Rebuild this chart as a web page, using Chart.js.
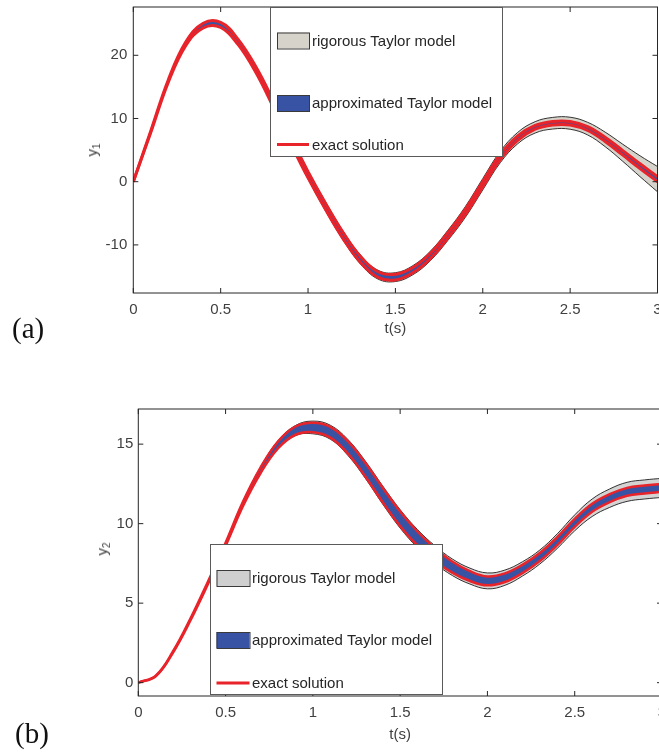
<!DOCTYPE html>
<html>
<head>
<meta charset="utf-8">
<script src="https://cdn.jsdelivr.net/npm/chart.js@4/dist/chart.umd.min.js"></script>
<style>
html,body{margin:0;padding:0;background:#fff;overflow:hidden;width:659px;height:752px;}
.wrap{position:absolute;left:0;}
#wa{top:0;width:659px;height:345px;}
#wb{top:390px;width:665px;height:362px;}
.panel{position:absolute;font-family:"Liberation Serif","Times New Roman",serif;font-size:29px;line-height:29px;color:#111;}
.ylab{position:absolute;font-family:"Liberation Sans",Arial,sans-serif;font-size:15px;color:#404040;white-space:nowrap;line-height:16px;transform:translate(-50%,-50%) rotate(-90deg);}
.ylab sub{font-size:10px;vertical-align:-3px;line-height:0;}
</style>
</head>
<body>
<div class="wrap" id="wa"><canvas id="ca"></canvas></div>
<div class="wrap" id="wb"><canvas id="cb"></canvas></div>
<div class="panel" id="pa" style="left:12px;top:314px;"></div>
<div class="panel" id="pb" style="left:15px;top:719px;"></div>
<div class="ylab" style="left:92px;top:150px;">y<sub>1</sub></div>
<div class="ylab" style="left:102px;top:549px;">y<sub>2</sub></div>
<script>
// ---- data ----
const tValues = [0,0.1,0.2,0.3,0.4,0.5,0.6,0.7,0.8,0.9,1.0,1.1,1.2,1.3,1.4,1.5,1.6,1.7,1.8,1.9,2.0,2.1,2.2,2.3,2.4,2.5,2.6,2.7,2.8,2.9,3.0];

const y1Center  = [0,7.9,15.9,21.8,24.7,24.8,22.1,17.8,12.4,6.6,1.1,-3.9,-8.5,-12.3,-14.7,-15.1,-14.0,-11.75,-8.5,-4.8,-0.4,3.9,6.9,8.6,9.25,9.25,8.4,6.7,4.6,2.45,0.4];
const y1RigHalf = [0,0.12,0.2,0.28,0.38,0.4,0.45,0.5,0.55,0.6,0.65,0.7,0.72,0.72,0.7,0.7,0.72,0.75,0.8,0.85,0.9,0.9,0.9,0.9,0.92,0.95,1.0,1.15,1.35,1.65,2.0];
const y1AppHalf = [0,0.12,0.2,0.28,0.36,0.4,0.42,0.45,0.5,0.5,0.5,0.5,0.5,0.48,0.45,0.45,0.42,0.42,0.42,0.42,0.42,0.4,0.35,0.3,0.28,0.28,0.3,0.33,0.36,0.38,0.4];

const y2Center  = [0,0.42,1.95,4.0,6.3,8.7,11.25,13.35,14.95,15.85,16.05,15.75,14.8,13.4,11.8,10.3,9.05,8.05,7.25,6.7,6.4,6.6,7.15,7.9,8.9,10.05,11.0,11.6,12.0,12.15,12.25];
const y2RigHalf = [0,0.03,0.05,0.07,0.09,0.12,0.16,0.2,0.26,0.32,0.4,0.44,0.5,0.54,0.57,0.58,0.57,0.55,0.52,0.5,0.5,0.48,0.45,0.44,0.46,0.5,0.55,0.58,0.6,0.6,0.6];
const y2AppHalf = [0,0.02,0.04,0.06,0.08,0.1,0.14,0.18,0.22,0.26,0.3,0.34,0.39,0.43,0.46,0.46,0.44,0.4,0.35,0.31,0.28,0.27,0.26,0.25,0.25,0.25,0.25,0.25,0.25,0.25,0.25];

const xTicks  = [0,0.5,1,1.5,2,2.5,3];
const y1Ticks = [-10,0,10,20];
const y2Ticks = [0,5,10,15];
const legendLabels = ['rigorous Taylor model','approximated Taylor model','exact solution'];
const panelLabels = ['(a)','(b)'];
const xTitle = 't(s)';

document.getElementById('pa').textContent = panelLabels[0];
document.getElementById('pb').textContent = panelLabels[1];

// ---- styling ----
const TXT = '#404040';
const FONT = {family:'"Liberation Sans", Arial, sans-serif', size:15};
const BLUE = '#3953a4';
const RED = '#e8232a';

function pts(center, half, sign){
  return tValues.map((t,i)=>({x:t, y:center[i] + sign*half[i]}));
}

function makeDatasets(center, rig, app, gray, redW){
  const base = {pointRadius:0, pointHoverRadius:0, tension:0.4, clip:0};
  return [
    Object.assign({}, base, {label:legendLabels[0]+' (upper)', data:pts(center,rig,1), borderColor:'#1e1e1e', borderWidth:0.9, fill:false, order:3}),
    Object.assign({}, base, {label:legendLabels[0], data:pts(center,rig,-1), borderColor:'#1e1e1e', borderWidth:0.9, backgroundColor:gray, fill:'-1', order:3}),
    Object.assign({}, base, {label:legendLabels[1]+' (upper)', data:pts(center,app,1), borderColor:BLUE, borderWidth:0.6, fill:false, order:2}),
    Object.assign({}, base, {label:legendLabels[1], data:pts(center,app,-1), borderColor:BLUE, borderWidth:0.6, backgroundColor:BLUE, fill:'-1', order:2}),
    Object.assign({}, base, {label:legendLabels[2], data:pts(center,app,1), borderColor:RED, borderWidth:redW, fill:false, order:1}),
    Object.assign({}, base, {label:legendLabels[2]+' (lower)', data:pts(center,app,-1), borderColor:RED, borderWidth:redW, fill:false, order:1})
  ];
}

const framePlugin = {
  id:'frame',
  afterDatasetsDraw(chart){
    const {ctx, chartArea:a, scales:{x, y}} = chart;
    ctx.save();
    ctx.strokeStyle = '#262626';
    ctx.lineWidth = 1;
    ctx.beginPath();
    x.ticks.forEach(t=>{
      const px = x.getPixelForValue(t.value);
      ctx.moveTo(px, a.bottom); ctx.lineTo(px, a.bottom-5);
      ctx.moveTo(px, a.top); ctx.lineTo(px, a.top+5);
    });
    y.ticks.forEach(t=>{
      const py = y.getPixelForValue(t.value);
      ctx.moveTo(a.left, py); ctx.lineTo(a.left+5, py);
      ctx.moveTo(a.right, py); ctx.lineTo(a.right-5, py);
    });
    ctx.stroke();
    ctx.strokeRect(a.left, a.top, a.right-a.left, a.bottom-a.top);
    ctx.restore();
  }
};

const boxLegend = {
  id:'boxLegend',
  afterDraw(chart, args, o){
    if (!o || !o.rows) return;
    const ctx = chart.ctx;
    ctx.save();
    ctx.fillStyle = '#fff';
    ctx.fillRect(o.x, o.y, o.w, o.h);
    ctx.strokeStyle = '#5a5a5a';
    ctx.lineWidth = 1;
    ctx.strokeRect(o.x+0.5, o.y+0.5, o.w, o.h);
    o.rows.forEach(r=>{
      if (r.kind === 'patch'){
        ctx.fillStyle = r.color;
        ctx.fillRect(o.sx, r.y-8, o.sw, 16);
        ctx.strokeStyle = '#3a3a3a';
        ctx.lineWidth = 1;
        ctx.strokeRect(o.sx+0.5, r.y-8+0.5, o.sw, 16);
      } else {
        ctx.strokeStyle = r.color;
        ctx.lineWidth = 3;
        ctx.beginPath();
        ctx.moveTo(o.sx, r.y); ctx.lineTo(o.sx+o.sw, r.y);
        ctx.stroke();
      }
      ctx.fillStyle = '#262626';
      ctx.font = '15px "Liberation Sans", Arial, sans-serif';
      ctx.textBaseline = 'middle';
      ctx.textAlign = 'left';
      ctx.fillText(r.text, o.tx, r.y + 1);
    });
    ctx.restore();
  }
};

function makeChart(id, cfg){
  return new Chart(document.getElementById(id), {
    type:'line',
    data:{datasets: makeDatasets(cfg.center, cfg.rig, cfg.app, cfg.gray, cfg.redW)},
    plugins:[framePlugin, boxLegend],
    options:{
      responsive:true,
      maintainAspectRatio:false,
      animation:false,
      events:[],
      layout:{padding:{top:cfg.padTop, right:cfg.padRight, left:0, bottom:0}},
      plugins:{
        legend:{display:false},
        tooltip:{enabled:false},
        boxLegend: cfg.legend
      },
      scales:{
        x:{
          type:'linear', min:0, max:3,
          afterBuildTicks: s=>{ s.ticks = xTicks.map(v=>({value:v})); },
          grid:{display:false, drawTicks:false},
          border:{display:false},
          ticks:{padding:cfg.xPad, color:TXT, font:FONT, maxRotation:0, autoSkip:false, callback:v=>String(v)},
          title:{display:true, text:xTitle, color:TXT, font:FONT, padding:{top:0, bottom:cfg.titlePad}},
          afterFit: s=>{ s.height = cfg.xHeight; s.paddingLeft = 0; s.paddingRight = 0; }
        },
        y:{
          type:'linear', min:cfg.yMin, max:cfg.yMax,
          afterBuildTicks: s=>{ s.ticks = cfg.yTicks.map(v=>({value:v})); },
          grid:{display:false, drawTicks:false},
          border:{display:false},
          ticks:{padding:cfg.yPad, color:TXT, font:FONT, autoSkip:false, callback:v=>String(v)},
          afterFit: s=>{ s.width = cfg.yWidth; s.paddingTop = 0; s.paddingBottom = 0; }
        }
      }
    }
  });
}

makeChart('ca', {
  center:y1Center, rig:y1RigHalf, app:y1AppHalf, gray:'#d6d3ca', redW:3,
  yMin:-17.61, yMax:27.64, yTicks:y1Ticks,
  padTop:7, padRight:1.5, xHeight:52, yWidth:133.3, xPad:8, yPad:6, titlePad:7,
  legend:{x:270, y:7, w:232, h:149, sx:277, sw:32, tx:312,
    rows:[{kind:'patch', color:'#d6d3ca', y:40.5, text:legendLabels[0]},
          {kind:'patch', color:BLUE, y:103, text:legendLabels[1]},
          {kind:'line', color:RED, y:144.5, text:legendLabels[2]}]}
});

makeChart('cb', {
  center:y2Center, rig:y2RigHalf, app:y2AppHalf, gray:'#d3d3d3', redW:2.5,
  yMin:-0.84, yMax:17.21, yTicks:y2Ticks,
  padTop:19, padRight:3, xHeight:56, yWidth:138.3, xPad:8, yPad:5, titlePad:8.5,
  legend:{x:210, y:154, w:232, h:150, sx:216.5, sw:33, tx:252,
    rows:[{kind:'patch', color:'#cfcfcf', y:188, text:legendLabels[0]},
          {kind:'patch', color:BLUE, y:250, text:legendLabels[1]},
          {kind:'line', color:RED, y:293, text:legendLabels[2]}]}
});
</script>
</body>
</html>
